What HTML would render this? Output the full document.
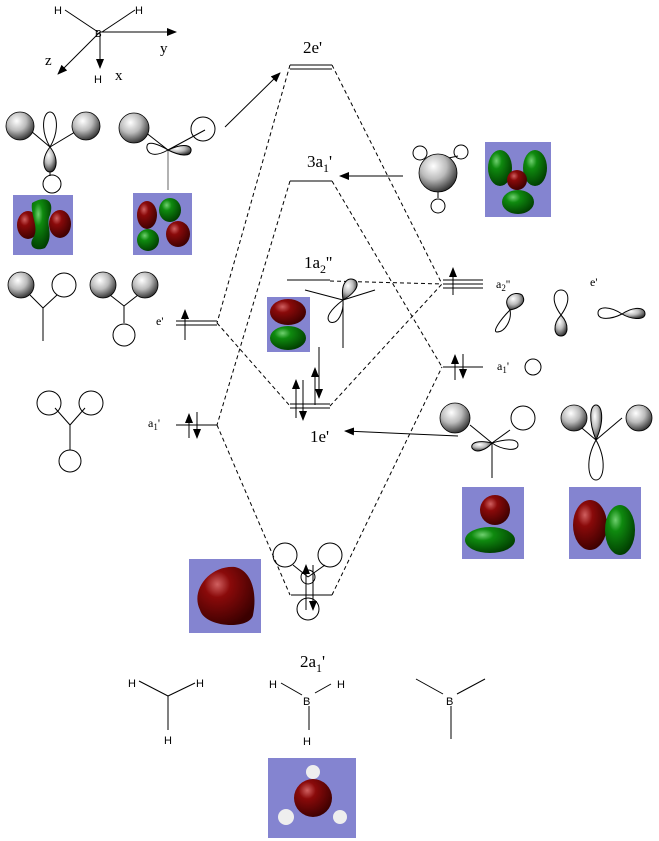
<!DOCTYPE html>
<html><head><meta charset="utf-8"><style>
html,body{margin:0;padding:0;background:#fff;}
svg{display:block;}
text{font-family:"Liberation Serif",serif;fill:#000;}
.s{font-family:"Liberation Sans",sans-serif;}
</style></head><body>
<svg width="659" height="841" viewBox="0 0 659 841" xmlns="http://www.w3.org/2000/svg">
<defs>
<radialGradient id="sp" cx="0.38" cy="0.32" r="0.7"><stop offset="0" stop-color="#fff"/><stop offset="0.5" stop-color="#bbb"/><stop offset="1" stop-color="#333"/></radialGradient>
<radialGradient id="rd" cx="0.35" cy="0.3" r="0.75"><stop offset="0" stop-color="#d06060"/><stop offset="0.3" stop-color="#8a0a0a"/><stop offset="1" stop-color="#3a0000"/></radialGradient>
<radialGradient id="gr" cx="0.35" cy="0.3" r="0.75"><stop offset="0" stop-color="#70d070"/><stop offset="0.3" stop-color="#0f8a0f"/><stop offset="1" stop-color="#003a00"/></radialGradient>
<marker id="ah" markerWidth="10" markerHeight="8" refX="9" refY="4" orient="auto" markerUnits="userSpaceOnUse"><path d="M0,0 L10,4 L0,8 Z" fill="#000"/></marker>
</defs>
<g stroke="#000" fill="none" stroke-width="1">
<!-- axes -->
<line x1="65" y1="10" x2="98" y2="32"/><line x1="135" y1="10" x2="102" y2="32"/>
<line x1="100" y1="32" x2="176" y2="32" marker-end="url(#ah)"/>
<line x1="100" y1="32" x2="58" y2="74" marker-end="url(#ah)"/>
<line x1="100" y1="32" x2="100" y2="68" marker-end="url(#ah)"/>
<!-- level lines -->
<line x1="290" y1="65" x2="332" y2="65"/><line x1="290" y1="69" x2="332" y2="69"/>
<line x1="290" y1="181" x2="332" y2="181"/>
<line x1="287" y1="280" x2="330" y2="280"/>
<line x1="290" y1="404" x2="330" y2="404"/><line x1="290" y1="408" x2="330" y2="408"/>
<line x1="291" y1="595" x2="332" y2="595"/>
<line x1="176" y1="321" x2="217" y2="321"/><line x1="176" y1="325" x2="217" y2="325"/>
<line x1="176" y1="425" x2="217" y2="425"/>
<line x1="443" y1="280" x2="483" y2="280"/><line x1="443" y1="284" x2="483" y2="284"/><line x1="443" y1="288" x2="483" y2="288"/>
<line x1="443" y1="367" x2="483" y2="367"/>
<!-- dashed -->
<g stroke-dasharray="4,3">
<line x1="290" y1="65" x2="217" y2="323"/><line x1="332" y1="65" x2="442" y2="284"/>
<line x1="290" y1="181" x2="217" y2="425"/><line x1="332" y1="181" x2="442" y2="367"/>
<line x1="217" y1="323" x2="290" y2="406"/><line x1="330" y1="406" x2="442" y2="284"/>
<line x1="217" y1="425" x2="290" y2="595"/><line x1="332" y1="595" x2="442" y2="367"/>
<line x1="330" y1="281" x2="442" y2="284"/>
</g>
<!-- electrons -->
<line x1="185" y1="340" x2="185" y2="310" marker-end="url(#ah)"/>
<line x1="189" y1="438" x2="189" y2="414" marker-end="url(#ah)"/><line x1="197" y1="412" x2="197" y2="438" marker-end="url(#ah)"/>
<line x1="453" y1="295" x2="453" y2="268" marker-end="url(#ah)"/>
<line x1="455" y1="380" x2="455" y2="355" marker-end="url(#ah)"/><line x1="463" y1="354" x2="463" y2="378" marker-end="url(#ah)"/>
<line x1="296" y1="418" x2="296" y2="380" marker-end="url(#ah)"/><line x1="303" y1="380" x2="303" y2="420" marker-end="url(#ah)"/>
<line x1="315" y1="405" x2="315" y2="368" marker-end="url(#ah)"/><line x1="319" y1="347" x2="319" y2="398" marker-end="url(#ah)"/>
<line x1="306" y1="610" x2="306" y2="565" marker-end="url(#ah)"/><line x1="313" y1="565" x2="313" y2="610" marker-end="url(#ah)"/>
<!-- arrows -->
<line x1="225" y1="127" x2="280" y2="73" marker-end="url(#ah)"/>
<line x1="403" y1="176" x2="340" y2="176" marker-end="url(#ah)"/>
<line x1="458" y1="436" x2="345" y2="431" marker-end="url(#ah)"/>
<!-- left top orbitals -->
<line x1="25" y1="126" x2="50" y2="147"/><line x1="85" y1="126" x2="50" y2="147"/><line x1="50" y1="147" x2="50" y2="176"/>
<path d="M50,147 C40,130 43,112 50,112 C57,112 60,130 50,147 Z"/>
<path d="M50,147 C40,160 44,172 50,172 C56,172 60,160 50,147 Z" fill="url(#sp)"/>
<circle cx="52" cy="184" r="9"/>
<line x1="140" y1="128" x2="168" y2="150"/><line x1="205" y1="130" x2="168" y2="150"/><line x1="168" y1="150" x2="168" y2="190" stroke="#666"/>
<path d="M168,150 C150,160 146,150 147,146 C148,140 160,145 168,150 Z"/>
<path d="M168,150 C185,142 192,146 191,151 C190,157 180,156 168,150 Z" fill="url(#sp)"/>
<circle cx="203" cy="129" r="12"/>
<!-- left mid -->
<line x1="30" y1="295" x2="43" y2="308"/><line x1="57" y1="295" x2="43" y2="308"/><line x1="43" y1="308" x2="43" y2="341"/>
<circle cx="64" cy="285" r="12"/>
<line x1="110" y1="295" x2="124" y2="306"/><line x1="138" y1="295" x2="124" y2="306"/><line x1="124" y1="306" x2="124" y2="323"/>
<circle cx="124" cy="335" r="11"/>
<line x1="55" y1="408" x2="70" y2="425"/><line x1="85" y1="408" x2="70" y2="425"/><line x1="70" y1="425" x2="70" y2="450"/>
<circle cx="49" cy="403" r="12"/><circle cx="91" cy="403" r="12"/><circle cx="70" cy="461" r="11"/>
<!-- 1a2'' p orbital -->
<line x1="305" y1="290" x2="343" y2="300"/><line x1="375" y1="290" x2="343" y2="300"/><line x1="343" y1="300" x2="343" y2="348"/>
<path d="M343,300 C340,280 350,276 356,281 C360,287 352,295 343,300 Z" fill="url(#sp)"/>
<path d="M343,300 C330,310 325,318 330,322 C338,325 344,312 343,300 Z"/>
<!-- right a2'' e' orbitals -->
<path d="M510,310 C500,298 515,290 522,295 C527,302 520,308 510,310 Z" fill="url(#sp)"/>
<path d="M510,310 C500,320 492,332 497,332 C505,332 512,320 510,310 Z"/>
<path d="M561,315 C550,300 554,290 561,290 C568,290 572,300 561,315 Z"/>
<path d="M561,315 C552,325 554,336 561,336 C568,336 570,325 561,315 Z" fill="url(#sp)"/>
<path d="M622,314 C610,306 598,306 598,313 C598,320 610,320 622,314 Z"/>
<path d="M622,314 C632,307 645,306 645,314 C645,320 632,320 622,314 Z" fill="url(#sp)"/>
<circle cx="533" cy="367" r="8"/>
<!-- right lower orbitals -->
<line x1="470" y1="425" x2="492" y2="443"/><line x1="492" y1="443" x2="492" y2="478"/><line x1="492" y1="443" x2="510" y2="430"/>
<path d="M492,443 C480,440 470,442 472,448 C476,454 486,450 492,443 Z" fill="url(#sp)"/>
<path d="M492,443 C502,440 518,437 518,445 C518,452 502,450 492,443 Z"/>
<circle cx="523" cy="418" r="12"/>
<line x1="570" y1="418" x2="596" y2="440"/><line x1="622" y1="418" x2="596" y2="440"/>
<path d="M596,440 C588,420 590,405 596,405 C602,405 605,420 596,440 Z" fill="url(#sp)"/>
<path d="M596,440 C585,460 588,480 596,480 C604,480 607,460 596,440 Z"/>
<circle cx="604" cy="510" r="8"/>
<!-- 2a1' orbital -->
<line x1="293" y1="565" x2="308" y2="577"/><line x1="325" y1="565" x2="308" y2="577"/>
<circle cx="285" cy="555" r="12"/><circle cx="330" cy="555" r="12"/><circle cx="308" cy="577" r="7"/><circle cx="308" cy="609" r="11"/>
<!-- 3a1' right -->
<line x1="425" y1="163" x2="458" y2="156"/><line x1="438" y1="175" x2="438" y2="198"/>
<circle cx="420" cy="153" r="7"/><circle cx="461" cy="152" r="7"/><circle cx="438" cy="206" r="7"/>
<!-- bottom structures -->
<line x1="139" y1="681" x2="168" y2="696"/><line x1="195" y1="683" x2="168" y2="696"/><line x1="168" y1="696" x2="168" y2="730"/>
<line x1="281" y1="683" x2="302" y2="695"/><line x1="331" y1="684" x2="315" y2="693"/><line x1="309" y1="706" x2="309" y2="730"/>
<line x1="416" y1="679" x2="443" y2="694"/><line x1="485" y1="679" x2="457" y2="694"/><line x1="451" y1="706" x2="451" y2="739"/>
</g>
<!-- spheres -->
<g stroke="#000" stroke-width="0.8" fill="url(#sp)">
<circle cx="20" cy="126" r="14"/><circle cx="86" cy="126" r="14"/>
<circle cx="134" cy="128" r="15"/>
<circle cx="21" cy="285" r="13"/><circle cx="103" cy="285" r="13"/><circle cx="145" cy="285" r="13"/>
<circle cx="438" cy="173" r="19"/>
<circle cx="455" cy="418" r="15"/><circle cx="574" cy="418" r="13"/><circle cx="639" cy="418" r="13"/>
</g>
<!-- MO pictures -->
<g>
<rect x="13" y="195" width="60" height="60" fill="#8484d0"/>
<ellipse cx="28" cy="225" rx="11" ry="14" fill="url(#rd)"/><ellipse cx="60" cy="224" rx="11" ry="14" fill="url(#rd)"/>
<path d="M32,203 C45,195 55,200 50,215 C45,225 55,235 45,248 C35,252 28,246 33,238 C40,228 30,215 32,203 Z" fill="url(#gr)"/>
<rect x="133" y="193" width="59" height="62" fill="#8484d0"/>
<ellipse cx="147" cy="215" rx="10" ry="14" fill="url(#rd)"/><ellipse cx="170" cy="210" rx="11" ry="12" fill="url(#gr)"/>
<ellipse cx="148" cy="240" rx="11" ry="11" fill="url(#gr)"/><ellipse cx="178" cy="234" rx="12" ry="13" fill="url(#rd)"/>
<rect x="485" y="142" width="66" height="75" fill="#8484d0"/>
<ellipse cx="500" cy="168" rx="12" ry="18" fill="url(#gr)"/><ellipse cx="535" cy="168" rx="12" ry="18" fill="url(#gr)"/>
<ellipse cx="518" cy="202" rx="16" ry="12" fill="url(#gr)"/><ellipse cx="517" cy="180" rx="10" ry="10" fill="url(#rd)"/>
<rect x="267" y="297" width="43" height="55" fill="#8484d0"/>
<ellipse cx="288" cy="312" rx="18" ry="13" fill="url(#rd)"/><ellipse cx="288" cy="338" rx="18" ry="12" fill="url(#gr)"/>
<rect x="462" y="487" width="62" height="72" fill="#8484d0"/>
<ellipse cx="495" cy="510" rx="15" ry="15" fill="url(#rd)"/><ellipse cx="490" cy="540" rx="25" ry="13" fill="url(#gr)"/>
<rect x="569" y="487" width="72" height="72" fill="#8484d0"/>
<ellipse cx="590" cy="525" rx="17" ry="25" fill="url(#rd)"/><ellipse cx="620" cy="530" rx="15" ry="25" fill="url(#gr)"/>
<rect x="189" y="559" width="72" height="74" fill="#8484d0"/>
<path d="M200,610 C190,590 210,565 235,567 C250,570 258,590 253,615 C250,630 205,628 200,610 Z" fill="url(#rd)"/>
<rect x="268" y="758" width="88" height="80" fill="#8484d0"/>
<circle cx="313" cy="798" r="19" fill="url(#rd)"/>
<circle cx="313" cy="772" r="7" fill="#eee"/><circle cx="286" cy="817" r="8" fill="#eee"/><circle cx="340" cy="817" r="7" fill="#eee"/>
</g>
<!-- text -->
<g class="s" font-size="11" font-family="Liberation Sans,sans-serif">
<text x="54" y="14" class="s">H</text><text x="135" y="14" class="s">H</text><text x="95" y="37" class="s" font-size="10">B</text><text x="94" y="83" class="s">H</text>
<text x="128" y="687" class="s">H</text><text x="196" y="687" class="s">H</text><text x="164" y="744" class="s">H</text>
<text x="269" y="688" class="s">H</text><text x="337" y="688" class="s">H</text><text x="303" y="705" class="s">B</text><text x="303" y="745" class="s">H</text>
<text x="446" y="705" class="s">B</text>
</g>
<text x="160" y="53" font-size="15">y</text><text x="115" y="80" font-size="15">x</text><text x="45" y="65" font-size="15">z</text>
<text x="303" y="53" font-size="17">2e'</text>
<text x="307" y="167" font-size="17">3a<tspan font-size="12" dy="5">1</tspan><tspan dy="-5">'</tspan></text>
<text x="304" y="268" font-size="17">1a<tspan font-size="12" dy="5">2</tspan><tspan dy="-5">''</tspan></text>
<text x="310" y="442" font-size="17">1e'</text>
<text x="300" y="667" font-size="17">2a<tspan font-size="12" dy="5">1</tspan><tspan dy="-5">'</tspan></text>
<text x="156" y="325" font-size="12">e'</text>
<text x="148" y="427" font-size="12">a<tspan font-size="9" dy="3">1</tspan><tspan dy="-3">'</tspan></text>
<text x="496" y="288" font-size="12">a<tspan font-size="9" dy="3">2</tspan><tspan dy="-3">''</tspan></text>
<text x="590" y="286" font-size="12">e'</text>
<text x="497" y="370" font-size="12">a<tspan font-size="9" dy="3">1</tspan><tspan dy="-3">'</tspan></text>
</svg>
</body></html>
